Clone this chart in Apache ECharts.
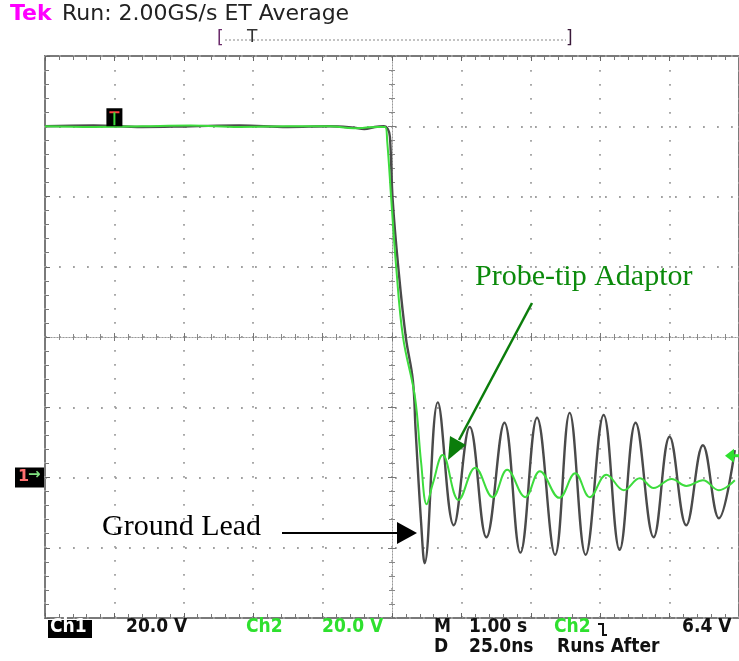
<!DOCTYPE html>
<html><head><meta charset="utf-8">
<script src="https://cdn.jsdelivr.net/npm/echarts@6/dist/echarts.min.js"></script>
<style>html,body{margin:0;padding:0;background:#fff}#c{width:739px;height:661px}</style>
</head><body><div id="c"></div>
<script>
// x in graticule divisions (0 = centre), y in divisions (0 = centre)
const groundLeadX = [-5.00,-4.30,-3.60,-2.90,-2.20,-1.50,-0.90,-0.55,-0.40,-0.25,-0.12,-0.06,-0.03,0.01,0.09,0.20,0.30,0.34,0.42,0.47,0.66,0.89,1.12,1.36,1.62,1.85,2.09,2.35,2.56,2.79,3.05,3.28,3.51,3.77,4.00,4.24,4.48,4.71,4.94];
const groundLeadY = [3.00,3.01,2.99,3.00,3.01,2.99,3.00,2.98,2.96,2.99,3.00,2.96,2.85,1.95,1.00,-0.01,-0.61,-1.32,-2.65,-3.22,-0.93,-2.68,-1.28,-2.85,-1.22,-3.07,-1.15,-3.10,-1.08,-3.10,-1.11,-3.03,-1.22,-2.85,-1.42,-2.68,-1.54,-2.58,-1.61];
const probeTipX = [-5.00,-4.30,-3.60,-2.90,-2.20,-1.50,-0.90,-0.55,-0.40,-0.20,-0.10,-0.07,-0.01,0.06,0.16,0.33,0.42,0.50,0.59,0.73,0.96,1.20,1.45,1.66,1.92,2.13,2.41,2.64,2.85,3.09,3.34,3.57,3.77,4.03,4.24,4.48,4.71,4.94];
const probeTipY = [3.00,2.99,3.00,3.01,2.99,3.00,3.00,2.97,2.98,2.99,2.99,2.80,1.95,1.00,-0.01,-0.85,-1.79,-2.38,-2.08,-1.68,-2.32,-1.86,-2.28,-1.89,-2.28,-1.91,-2.29,-1.94,-2.28,-1.96,-2.18,-2.01,-2.15,-2.02,-2.12,-2.04,-2.18,-2.04];
const headerBrand = 'Tek';
const headerText = 'Run: 2.00GS/s ET Average';
const footerLine1 = [['20.0 V','#111',126],['Ch2','#2ee02e',246],['20.0 V','#2ee02e',322],['M','#111',434],['1.00 s','#111',469],['Ch2','#2ee02e',554],['6.4 V','#111',682]];
const footerLine2 = [['D','#111',434],['25.0ns','#111',469],['Runs After','#111',557]];
const labelProbe = 'Probe-tip Adaptor';
const labelGround = 'Ground Lead';
const ch1Ground = -2;      // Ch1 ground reference level (div)
const trigPos = -4;       // trigger position (div)
const trigLevel = -1.69;  // Ch2 trigger level (div)

const pair = (xs, ys) => xs.map((x, i) => [x, ys[i]]);
const G = {left: 45, top: 56, width: 698, height: 562};
const frameTick = {show: true, inside: true, length: 5, lineStyle: {color: '#666', width: 1}};
const frameMinor = {show: true, splitNumber: 5, length: 4, lineStyle: {color: '#777', width: 1}};
const dots = {show: true, lineStyle: {color: '#a0a0a0', width: 1.8, type: [1.8, 12.2]}};
function centreAxes(gi, inside) {
  const ax = {
    gridIndex: gi, type: 'value',
    axisLine: {show: true, onZero: true, lineStyle: {color: '#9a9a9a', width: 1, type: [1, 2]}},
    axisTick: {show: true, inside: inside, length: 4, lineStyle: {color: '#777'}},
    minorTick: {show: true, splitNumber: 5, length: 3, lineStyle: {color: '#888'}},
    axisLabel: {show: false}, splitLine: {show: false}
  };
  return {
    x: Object.assign({}, ax, {min: -5, max: 5, interval: 1, position: 'bottom'}),
    y: Object.assign({}, ax, {min: -4, max: 4, interval: 1, position: 'left'})
  };
}
const c1 = centreAxes(1, true), c2 = centreAxes(2, false);

const chart = echarts.init(document.getElementById('c'), null, {renderer: 'canvas'});
chart.setOption({
  animation: false,
  backgroundColor: '#fff',
  grid: [
    Object.assign({show: true, borderColor: '#7a7a7a', borderWidth: 2, backgroundColor: 'transparent'}, G),
    Object.assign({}, G), Object.assign({}, G)
  ],
  xAxis: [
    {gridIndex: 0, type: 'value', min: -5, max: 5, interval: 1, position: 'bottom',
     axisLine: {show: false, onZero: false}, axisTick: frameTick, minorTick: frameMinor,
     axisLabel: {show: false}, splitLine: dots},
    {gridIndex: 0, type: 'value', min: -5, max: 5, interval: 1, position: 'top',
     axisLine: {show: false, onZero: false}, axisTick: frameTick, minorTick: frameMinor,
     axisLabel: {show: false}, splitLine: {show: false}},
    c1.x, c2.x
  ],
  yAxis: [
    {gridIndex: 0, type: 'value', min: -4, max: 4, interval: 1, position: 'left',
     axisLine: {show: false, onZero: false}, axisTick: frameTick, minorTick: frameMinor,
     axisLabel: {show: false}, splitLine: dots},
    c1.y, c2.y
  ],
  series: [
    {name: 'Ground Lead', type: 'line', xAxisIndex: 0, yAxisIndex: 0, data: pair(groundLeadX, groundLeadY),
     smooth: 0.4, showSymbol: false, z: 5,
     lineStyle: {color: '#4a4a4a', width: 2.4}},
    {name: 'Probe-tip Adaptor', type: 'line', xAxisIndex: 0, yAxisIndex: 0, data: pair(probeTipX, probeTipY),
     smooth: 0.4, showSymbol: false, z: 6,
     lineStyle: {color: '#3ddc3d', width: 2}}
  ]
});

const px = (x, y) => chart.convertToPixel({gridIndex: 0}, [x, y]);
const gnd = px(-5, ch1Ground);
const trg = px(trigPos, 3);
const lvl = px(5, trigLevel);
const serif = '"Liberation Serif", "Times New Roman", serif';
const mono = '"DejaVu Sans Condensed", "DejaVu Sans", sans-serif';
const graphic = [
  // header
  {type: 'text', left: 10, top: 3, style: {text: headerBrand, fill: '#ff00ff', font: 'bold 22px "DejaVu Sans", sans-serif'}},
  {type: 'text', left: 62, top: 3, style: {text: headerText, fill: '#222', font: '22px "DejaVu Sans", sans-serif'}},
  // record bracket
  {type: 'text', x: 217, y: 30, style: {text: '[', fill: '#6a2a6a', font: '17px "DejaVu Sans", sans-serif'}},
  {type: 'text', x: 566, y: 30, style: {text: ']', fill: '#3a1a3a', font: '17px "DejaVu Sans", sans-serif'}},
  {type: 'line', shape: {x1: 225, y1: 40, x2: 566, y2: 40}, style: {stroke: '#888', lineWidth: 1, lineDash: [2, 2]}},
  {type: 'text', x: 247, y: 29, style: {text: 'T', fill: '#333', font: '17px "DejaVu Sans", sans-serif'}},
  // Ch1 ground marker
  {type: 'rect', shape: {x: gnd[0] - 30, y: gnd[1] - 10, width: 29, height: 20}, style: {fill: '#000'}},
  {type: 'text', x: gnd[0] - 27, y: gnd[1] - 9, style: {text: '1', fill: '#ff7070', font: 'bold 16px "DejaVu Sans", sans-serif'}},
  {type: 'text', x: gnd[0] - 17, y: gnd[1] - 10, style: {text: '→', fill: '#7fe07f', font: 'bold 15px "DejaVu Sans", sans-serif'}},
  // trigger position marker
  {type: 'rect', shape: {x: trg[0] - 8, y: trg[1] - 18, width: 16, height: 18}, style: {fill: '#000'}, z: 20},
  {type: 'line', shape: {x1: trg[0] - 5, y1: trg[1] - 14, x2: trg[0] + 5, y2: trg[1] - 14}, style: {stroke: '#ff4040', lineWidth: 2}, z: 21},
  {type: 'line', shape: {x1: trg[0], y1: trg[1] - 14, x2: trg[0], y2: trg[1] - 1}, style: {stroke: '#3ddc3d', lineWidth: 2}, z: 21},
  // Ch2 trigger level marker
  {type: 'polygon', shape: {points: [[lvl[0] - 14, lvl[1]], [lvl[0] - 5, lvl[1] - 7], [lvl[0] - 5, lvl[1] + 7]]}, style: {fill: '#2ee02e'}, z: 20},
  {type: 'line', shape: {x1: lvl[0] - 6, y1: lvl[1], x2: lvl[0], y2: lvl[1]}, style: {stroke: '#2ee02e', lineWidth: 3}, z: 20},
  // annotations
  {type: 'text', x: 475, y: 292, style: {text: labelProbe, fill: '#0b8a0b', font: '30px ' + serif, textVerticalAlign: 'bottom'}, z: 30},
  {type: 'line', shape: {x1: 532, y1: 303, x2: 459, y2: 440}, style: {stroke: '#0b7d0b', lineWidth: 2.5}, z: 30},
  {type: 'polygon', shape: {points: [[448, 460], [466, 445], [450, 436]]}, style: {fill: '#0b7d0b'}, z: 30},
  {type: 'text', x: 102, y: 542, style: {text: labelGround, fill: '#000', font: '30px ' + serif, textVerticalAlign: 'bottom'}, z: 30},
  {type: 'line', shape: {x1: 282, y1: 533, x2: 400, y2: 533}, style: {stroke: '#000', lineWidth: 2}, z: 30},
  {type: 'polygon', shape: {points: [[417, 533], [397, 522], [397, 544]]}, style: {fill: '#000'}, z: 30},
  // footer
  {type: 'rect', shape: {x: 48, y: 620, width: 44, height: 18}, style: {fill: '#000'}},
  {type: 'text', x: 50, y: 637, style: {text: 'Ch1', fill: '#fff', font: 'bold 19px ' + mono, textVerticalAlign: 'bottom'}},
  {type: 'polyline', shape: {points: [[598, 624], [603, 624], [603, 635], [607, 635]]}, style: {stroke: '#111', lineWidth: 2, fill: null}}
];
footerLine1.forEach(([t, col, x]) => graphic.push({type: 'text', x: x, y: 637, style: {text: t, fill: col, font: 'bold 19px ' + mono, textVerticalAlign: 'bottom'}}));
footerLine2.forEach(([t, col, x]) => graphic.push({type: 'text', x: x, y: 657, style: {text: t, fill: col, font: 'bold 19px ' + mono, textVerticalAlign: 'bottom'}}));
chart.setOption({graphic: graphic});
</script>
</body></html>
